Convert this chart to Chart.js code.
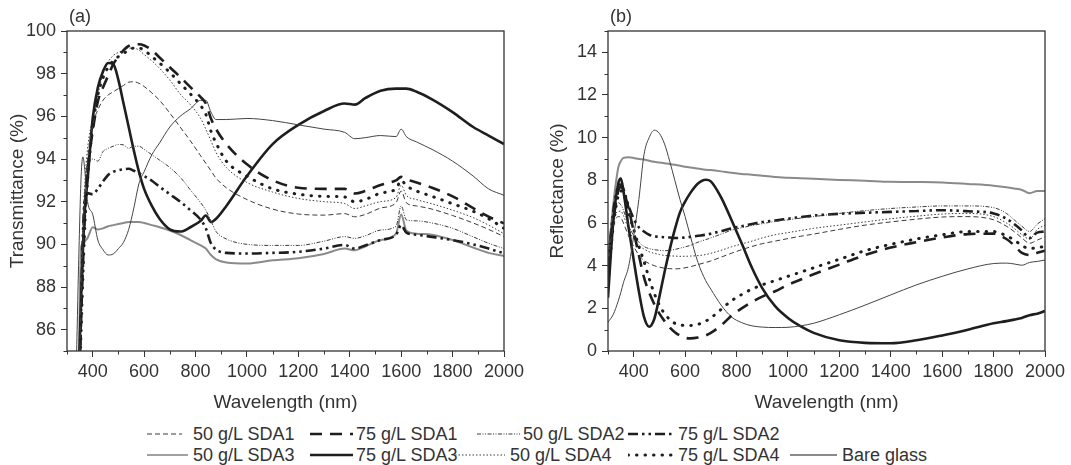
<!DOCTYPE html>
<html>
<head>
<meta charset="utf-8">
<title>Transmittance and reflectance spectra</title>
<script src="https://cdn.jsdelivr.net/npm/chart.js@4.4.1/dist/chart.umd.min.js"></script>
<style>
  body { margin: 0; background: #fff; width: 1071px; height: 465px; overflow: hidden; position: relative;
         font-family: "Liberation Sans", Arial, sans-serif; color: #333; }
  canvas { position: absolute; top: 0; }
  #chartA { left: 0; }
  #chartB { left: 540px; }
  .sample { position: absolute; }
  .label { position: absolute; font-size: 18px; line-height: 22px; white-space: nowrap; }
</style>
</head>
<body>
<canvas id="chartA" width="540" height="420"></canvas>
<canvas id="chartB" width="531" height="420"></canvas>
<div id="legend"></div>
<script>
// ---- data ----
const seriesNames = ["50 g/L SDA1", "75 g/L SDA1", "50 g/L SDA2", "75 g/L SDA2",
  "50 g/L SDA3", "75 g/L SDA3", "50 g/L SDA4", "75 g/L SDA4", "Bare glass"];

// (a) transmittance, shared wavelength grid (nm)
const wlA = [300, 335, 345, 355, 362, 370, 380, 400, 420, 440, 460, 480, 500, 520, 540, 560, 580, 600,
  630, 660, 700, 740, 780, 820, 840, 860, 880, 920, 1000, 1100, 1200, 1300, 1380, 1420, 1460, 1520,
  1580, 1600, 1620, 1660, 1720, 1800, 1880, 1940, 2000];
const t50SDA1 = [80, 80, 83, 87.5, 90, 92.5, 94, 95.6, 96.3, 96.75, 97.0, 97.15, 97.3, 97.45, 97.6, 97.62, 97.55, 97.4,
  97.1, 96.75, 96.15, 95.5, 94.85, 94.15, 93.8, 93.45, 93.1, 92.65, 92.1, 91.65, 91.42, 91.37, 91.44, 91.29, 91.4, 91.7,
  91.95, 92.5, 91.95, 91.8, 91.65, 91.35, 91.0, 90.7, 90.36];
const t75SDA1 = [80, 80, 82, 86.5, 89, 91.5, 93.4, 95.3, 96.7, 97.35, 97.9, 98.45, 98.8, 99.1, 99.3, 99.38, 99.38, 99.32,
  99.1, 98.76, 98.3, 97.85, 97.37, 96.9, 96.6, 95.9, 95.4, 94.7, 93.75, 93.0, 92.65, 92.6, 92.6, 92.38, 92.5, 92.78,
  93.0, 93.16, 93.05, 92.9, 92.65, 92.25, 91.7, 91.3, 90.98];
const t50SDA2 = [80, 80, 83, 87.5, 90.5, 92.5, 93.8, 94.0, 93.9, 94.35, 94.5, 94.6, 94.68, 94.66, 94.5, 94.6, 94.6, 94.45,
  94.2, 93.95, 93.6, 93.15, 92.55, 91.95, 91.6, 91.1, 90.6, 90.25, 90.0, 89.95, 89.95, 90.15, 90.36, 90.28, 90.4, 90.67,
  90.85, 91.8, 91.15, 91.1, 91.0, 90.75, 90.35, 90.05, 89.8];
const t75SDA2 = [80, 80, 82, 87, 90.5, 92.2, 92.4, 92.35, 92.6, 92.95, 93.25, 93.4, 93.47, 93.52, 93.54, 93.45, 93.33, 93.2,
  92.98, 92.7, 92.35, 92.0, 91.6, 91.15, 90.75, 90.05, 89.75, 89.6, 89.57, 89.6, 89.65, 89.8, 89.97, 89.8, 89.95, 90.2,
  90.45, 90.9, 90.55, 90.45, 90.35, 90.2, 90.0, 89.8, 89.58];
const t50SDA3 = [80, 84, 89, 93.2, 94.1, 93.4, 92.0, 91.4, 90.2, 89.75, 89.5, 89.55, 89.8, 90.1, 90.7, 91.7, 92.85, 93.4,
  94.2, 94.75, 95.5, 96.0, 96.35, 96.75, 96.75, 96.2, 95.85, 95.85, 95.9, 95.8, 95.6, 95.4, 95.25, 94.95, 95.0, 95.1,
  95.05, 95.4, 95.05, 94.8, 94.45, 93.9, 93.2, 92.6, 92.3];
const t75SDA3 = [80, 80, 83.5, 87.5, 89.8, 91.7, 93.0, 95.9, 97.35, 98.1, 98.5, 98.45, 97.7, 96.6, 95.5, 94.4, 93.4, 92.6,
  91.8, 91.2, 90.7, 90.6, 90.8, 91.1, 91.35, 91.05, 91.2, 91.8, 93.2, 94.7, 95.6, 96.25, 96.6, 96.55, 96.85, 97.2,
  97.3, 97.3, 97.3, 97.15, 96.8, 96.2, 95.5, 95.1, 94.7];
const t50SDA4 = [80, 80, 83, 88, 91, 93, 94.5, 95.9, 97.0, 98.0, 98.55, 98.85, 99.0, 99.1, 99.2, 99.2, 99.1, 98.9,
  98.6, 98.25, 97.7, 97.05, 96.55, 95.9, 95.4, 94.85, 94.3, 93.6, 92.9, 92.45, 92.15, 92.0, 91.91, 91.68, 91.8, 92.0,
  92.2, 92.77, 92.3, 92.1, 91.9, 91.6, 91.25, 90.9, 90.5];
const t75SDA4 = [80, 80, 82, 86, 88.5, 91, 93, 95.5, 97.0, 97.8, 98.3, 98.6, 98.8, 98.95, 99.1, 99.2, 99.2, 99.1,
  98.8, 98.5, 98.06, 97.55, 97.05, 96.5, 96.1, 95.3, 94.75, 93.9, 93.2, 92.6, 92.35, 92.25, 92.22, 91.99, 92.1, 92.4,
  92.6, 93.0, 92.75, 92.5, 92.25, 91.9, 91.55, 91.2, 90.75];
const tBare = [80, 80, 84, 89.9, 90.0, 90.15, 90.3, 90.8, 90.7, 90.75, 90.85, 90.9, 90.95, 91.0, 91.05, 91.05, 91.05, 91.0,
  90.9, 90.8, 90.65, 90.45, 90.2, 89.95, 89.8, 89.5, 89.3, 89.15, 89.1, 89.25, 89.35, 89.55, 89.8, 89.72, 89.9, 90.2,
  90.5, 91.4, 90.65, 90.5, 90.45, 90.2, 89.85, 89.6, 89.45];

// (b) reflectance, shared wavelength grid (nm)
const wlB = [300, 320, 340, 350, 360, 380, 400, 420, 440, 460, 480, 500, 520, 540, 560, 580, 600, 620, 650, 680, 700,
  740, 780, 820, 860, 900, 950, 1000, 1050, 1100, 1200, 1300, 1400, 1500, 1600, 1700, 1800, 1850, 1880, 1910, 1940, 1970, 2000];
const r50SDA1 = [4.0, 5.8, 6.3, 6.25, 6.0, 5.4, 4.9, 4.5, 4.25, 4.1, 4.0, 3.93, 3.88, 3.86, 3.85, 3.86, 3.9, 3.95, 4.05, 4.15, 4.22,
  4.4, 4.58, 4.75, 4.9, 5.03, 5.15, 5.27, 5.38, 5.48, 5.7, 5.9, 6.05, 6.18, 6.28, 6.3, 6.15, 5.85, 5.6, 5.3, 5.05, 5.2, 5.35];
const r75SDA1 = [3.6, 6.0, 7.5, 7.7, 7.5, 6.7, 5.6, 4.5, 3.45, 2.75, 2.2, 1.75, 1.4, 1.1, 0.88, 0.72, 0.62, 0.59, 0.63, 0.73, 0.85,
  1.2, 1.65, 2.0, 2.3, 2.55, 2.8, 3.1, 3.35, 3.6, 4.05, 4.5, 4.85, 5.1, 5.32, 5.48, 5.5, 5.25, 4.95, 4.6, 4.5, 4.6, 4.7];
const r50SDA2 = [4.6, 6.5, 6.95, 6.85, 6.6, 5.9, 5.4, 5.1, 4.9, 4.8, 4.75, 4.72, 4.7, 4.72, 4.76, 4.82, 4.88, 4.95, 5.1, 5.22, 5.3,
  5.48, 5.66, 5.78, 5.88, 5.97, 6.07, 6.15, 6.23, 6.3, 6.45, 6.58, 6.68, 6.75, 6.8, 6.8, 6.72, 6.45, 6.15, 5.85, 5.6, 5.95, 6.2];
const r75SDA2 = [4.0, 6.5, 7.7, 7.8, 7.6, 6.8, 6.2, 5.8, 5.6, 5.45, 5.38, 5.35, 5.33, 5.32, 5.3, 5.3, 5.32, 5.35, 5.4, 5.45, 5.5,
  5.62, 5.75, 5.85, 5.95, 6.05, 6.12, 6.2, 6.28, 6.35, 6.43, 6.48, 6.52, 6.56, 6.6, 6.55, 6.45, 6.2, 5.95, 5.65, 5.3, 5.55, 5.6];
const r50SDA3 = [1.35, 1.7, 2.35, 2.75, 3.2, 3.95, 5.4, 7.1, 9.2, 10.0, 10.35, 10.2, 9.7, 8.9, 8.0, 7.1, 6.3, 5.4, 4.15, 3.3, 2.9,
  2.15, 1.6, 1.33, 1.18, 1.12, 1.1, 1.11, 1.18, 1.3, 1.7, 2.15, 2.63, 3.1, 3.5, 3.85, 4.1, 4.12, 4.08, 4.02, 4.15, 4.2, 4.26];
const r75SDA3 = [2.5, 6.0, 7.85, 8.08, 7.5, 5.8, 4.26, 2.8, 1.6, 1.14, 1.5, 2.55, 3.7, 4.75, 5.7, 6.5, 7.0, 7.4, 7.85, 8.03, 7.95,
  7.2, 6.15, 5.05, 3.9, 2.95, 2.1, 1.55, 1.15, 0.85, 0.5, 0.38, 0.36, 0.5, 0.73, 1.0, 1.3, 1.4, 1.47, 1.55, 1.68, 1.75, 1.87];
const r50SDA4 = [4.2, 6.0, 6.55, 6.55, 6.35, 5.7, 5.25, 4.95, 4.78, 4.65, 4.58, 4.52, 4.48, 4.46, 4.45, 4.44, 4.44, 4.45, 4.47, 4.52, 4.58,
  4.72, 4.88, 5.02, 5.15, 5.3, 5.45, 5.55, 5.65, 5.75, 5.9, 6.05, 6.2, 6.32, 6.42, 6.45, 6.3, 6.0, 5.75, 5.45, 5.25, 5.7, 5.9];
const r75SDA4 = [3.2, 5.8, 7.3, 7.5, 7.4, 6.5, 5.7, 4.9, 4.2, 3.4, 2.7, 2.15, 1.75, 1.48, 1.3, 1.22, 1.2, 1.2, 1.25, 1.4, 1.55,
  1.95, 2.35, 2.65, 2.9, 3.1, 3.3, 3.5, 3.7, 3.9, 4.3, 4.7, 5.0, 5.25, 5.45, 5.6, 5.6, 5.4, 5.2, 4.95, 4.8, 4.85, 4.9];
const rBare = [4.2, 6.8, 8.6, 8.9, 9.05, 9.08, 9.05, 9.0, 8.98, 8.92, 8.87, 8.84, 8.8, 8.77, 8.73, 8.68, 8.64, 8.6, 8.55, 8.5, 8.48,
  8.42, 8.35, 8.3, 8.26, 8.21, 8.16, 8.12, 8.1, 8.07, 8.02, 7.98, 7.93, 7.92, 7.9, 7.83, 7.75, 7.68, 7.62, 7.55, 7.4, 7.5, 7.5];

// tick values
const xMajor = [400, 600, 800, 1000, 1200, 1400, 1600, 1800, 2000];
const xMinor = [300, 500, 700, 900, 1100, 1300, 1500, 1700, 1900];
const yMajorA = [86, 88, 90, 92, 94, 96, 98, 100];
const yMinorA = [85, 87, 89, 91, 93, 95, 97, 99];
const yMajorB = [0, 2, 4, 6, 8, 10, 12, 14];
const yMinorB = [1, 3, 5, 7, 9, 11, 13, 15];

// ---- styles ----
const FONT = '"Liberation Sans", Arial, sans-serif';
const INK = "#333";
const lineStyles = [
  { color: "#3a3a3a", width: 1, dash: [5, 3], cap: "butt" },               // 50 SDA1
  { color: "#1e1e1e", width: 2.6, dash: [12, 8], cap: "butt" },            // 75 SDA1
  { color: "#3a3a3a", width: 1, dash: [4, 1.5, 1, 1.5, 1, 1.5], cap: "butt" }, // 50 SDA2
  { color: "#1e1e1e", width: 2.6, dash: [10, 4, 2.5, 4, 2.5, 4], cap: "butt" }, // 75 SDA2
  { color: "#444", width: 1, dash: [], cap: "butt" },                      // 50 SDA3
  { color: "#1e1e1e", width: 2.6, dash: [], cap: "butt" },                 // 75 SDA3
  { color: "#3a3a3a", width: 1, dash: [1.5, 2], cap: "butt" },             // 50 SDA4
  { color: "#1e1e1e", width: 3, dash: [0.5, 8], cap: "round" },            // 75 SDA4
  { color: "#8a8a8a", width: 2, dash: [], cap: "butt" }                    // bare glass
];

Chart.defaults.font.family = FONT;
Chart.defaults.color = INK;

// frame, minor ticks and the panel tag
const framePlugin = {
  id: "frame",
  afterDraw(chart, args, opts) {
    const { ctx, chartArea: a, scales } = chart;
    ctx.save();
    ctx.strokeStyle = INK;
    ctx.lineWidth = 1;
    ctx.beginPath();
    opts.xMinor.forEach((v) => {
      const px = Math.round(scales.x.getPixelForValue(v)) + 0.5;
      ctx.moveTo(px, a.bottom);
      ctx.lineTo(px, a.bottom + 3.5);
    });
    opts.yMinor.forEach((v) => {
      const py = Math.round(scales.y.getPixelForValue(v)) + 0.5;
      ctx.moveTo(a.left, py);
      ctx.lineTo(a.left - 3.5, py);
    });
    ctx.stroke();
    ctx.lineWidth = 1.3;
    ctx.strokeRect(a.left, a.top, a.right - a.left, a.bottom - a.top);
    ctx.fillStyle = INK;
    ctx.font = "18px " + FONT;
    ctx.textBaseline = "middle";
    ctx.fillText(opts.tag, a.left + 2, a.top - 14);
    ctx.restore();
  }
};

function buildChart(id, wl, values, yMin, yMax, yMajor, yMinor, yTitle, yAxisWidth, padRight, tag) {
  const datasets = values.map((vals, i) => ({
    label: seriesNames[i],
    data: wl.map((x, k) => ({ x, y: vals[k] })),
    borderColor: lineStyles[i].color,
    borderWidth: lineStyles[i].width,
    borderDash: lineStyles[i].dash,
    borderCapStyle: lineStyles[i].cap,
    pointRadius: 0,
    fill: false,
    cubicInterpolationMode: "monotone"
  }));
  return new Chart(document.getElementById(id), {
    type: "line",
    data: { datasets },
    plugins: [framePlugin],
    options: {
      responsive: false,
      animation: false,
      layout: { padding: { left: 0, right: padRight, top: 31, bottom: 0 } },
      plugins: {
        legend: { display: false },
        tooltip: { enabled: false },
        frame: { xMinor, yMinor, tag }
      },
      scales: {
        x: {
          type: "linear",
          min: 300,
          max: 2000,
          afterBuildTicks: (s) => { s.ticks = xMajor.map((v) => ({ value: v })); },
          afterFit: (s) => { s.height = 69; },
          grid: { drawOnChartArea: false, drawTicks: true, tickLength: 6, color: INK },
          border: { display: false },
          ticks: { font: { size: 18 }, color: INK, padding: 4, maxRotation: 0, callback: (v) => String(v) },
          title: { display: true, text: "Wavelength (nm)", font: { size: 19 }, color: INK, padding: { top: 0, bottom: 6 } }
        },
        y: {
          min: yMin,
          max: yMax,
          afterBuildTicks: (s) => { s.ticks = yMajor.map((v) => ({ value: v })); },
          afterFit: (s) => { s.width = yAxisWidth; },
          grid: { drawOnChartArea: false, drawTicks: true, tickLength: 6, color: INK },
          border: { display: false },
          ticks: { font: { size: 18 }, color: INK, padding: 5, callback: (v) => String(v) },
          title: { display: true, text: yTitle, font: { size: 19 }, color: INK, padding: { top: 6, bottom: 0 } }
        }
      }
    }
  });
}

buildChart("chartA", wlA,
  [t50SDA1, t75SDA1, t50SDA2, t75SDA2, t50SDA3, t75SDA3, t50SDA4, t75SDA4, tBare],
  85, 100, yMajorA, yMinorA, "Transmittance (%)", 67, 36, "(a)");
buildChart("chartB", wlB,
  [r50SDA1, r75SDA1, r50SDA2, r75SDA2, r50SDA3, r75SDA3, r50SDA4, r75SDA4, rBare],
  0, 15, yMajorB, yMinorB, "Reflectance (%)", 68, 26, "(b)");

// ---- legend (two rows under both panels) ----
// [sample start, sample end, text left, row centre]
const legendSpots = [
  [147, 182, 193, 434], [310, 353, 356, 434], [477, 520, 523, 434], [628, 673, 678, 434],
  [147, 188, 193, 455], [310, 353, 356, 455], [455, 505, 510, 455], [628, 675, 678, 455], [790, 837, 842, 455]
];
const legend = document.getElementById("legend");
seriesNames.forEach((name, i) => {
  const [x0, x1, tx, cy] = legendSpots[i];
  const st = lineStyles[i];
  const w = x1 - x0;
  legend.insertAdjacentHTML("beforeend",
    `<svg class="sample" style="left:${x0}px;top:${cy - 5}px" width="${w}" height="10">
       <line x1="0" y1="5" x2="${w}" y2="5" stroke="${st.color}" stroke-width="${st.width}"
             stroke-dasharray="${st.dash.join(" ")}" stroke-linecap="${st.cap}"/></svg>
     <div class="label" style="left:${tx}px;top:${cy - 11}px">${name}</div>`);
});
</script>
</body>
</html>
